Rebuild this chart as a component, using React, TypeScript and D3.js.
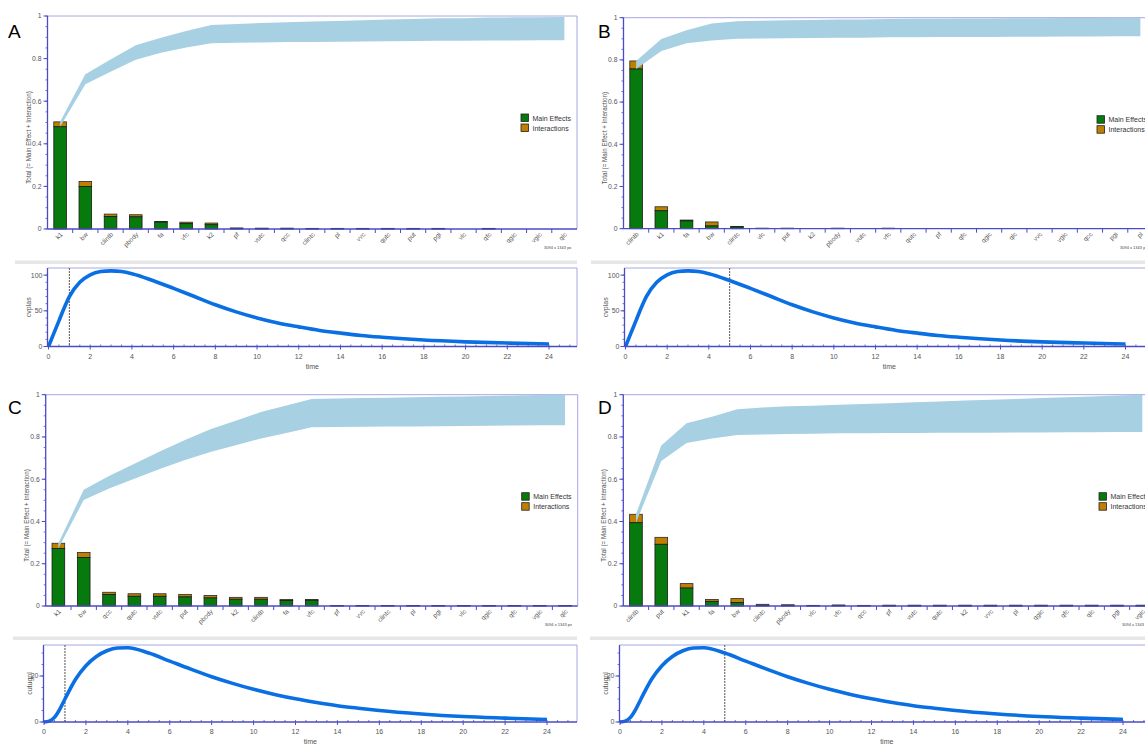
import React from "react";
import * as d3 from "d3";

// ---------- data ----------
const catsA = ["k1","bw","clintb","pbody","fa","vfc","k2","pf","vutc","qcc","clintc","pl","vvc","qutc","put","pgi","vlc","qfc","qgic","vgic","qlc"];
const mainA = [0.48,0.2,0.058,0.057,0.032,0.025,0.02,0.0025,0.0015,0.0015,0.001,0.001,0.001,0.001,0.001,0.001,0.0005,0.001,0.0005,0.0005,0.0005];
const totalA = [0.503,0.223,0.07,0.067,0.035,0.032,0.028,0.005,0.004,0.004,0.003,0.003,0.003,0.003,0.003,0.003,0.0008,0.003,0.0008,0.0008,0.0008];

const catsB = ["clintb","k1","fa","bw","clintc","vlc","put","k2","pbody","vutc","vfc","qutc","pf","qfc","qgic","qlc","vvc","vgic","qcc","pgi","pl"];
const mainB = [0.757,0.085,0.037,0.013,0.008,0.0015,0.0015,0.0005,0.0015,0.0005,0.0015,0.0005,0.0005,0.0005,0.0005,0.0005,0.0005,0.0005,0.0005,0.0005,0.0005];
const totalB = [0.795,0.104,0.041,0.032,0.011,0.0025,0.0025,0.0006,0.0025,0.0006,0.0025,0.0006,0.0006,0.0006,0.0006,0.0006,0.0006,0.0006,0.0006,0.0006,0.0006];

const catsC = ["k1","bw","qcc","qutc","vutc","put","pbody","k2","clintb","fa","vfc","pf","vvc","clintc","pl","pgi","vlc","qgic","qfc","vgic","qlc"];
const mainC = [0.272,0.23,0.054,0.046,0.046,0.043,0.038,0.032,0.032,0.026,0.027,0.001,0.001,0.001,0.001,0.001,0.001,0.001,0.001,0.001,0.001];
const totalC = [0.297,0.253,0.065,0.058,0.058,0.055,0.05,0.041,0.041,0.031,0.031,0.002,0.002,0.002,0.002,0.002,0.002,0.002,0.002,0.002,0.002];

const catsD = ["clintb","put","k1","fa","bw","clintc","pbody","vlc","vfc","qcc","pf","vutc","qutc","k2","vvc","pl","qgic","qfc","qlc","pgi","vgic"];
const mainD = [0.394,0.292,0.085,0.022,0.016,0.003,0.002,0.001,0.002,0.001,0.0005,0.0005,0.0005,0.0005,0.0005,0.0005,0.0005,0.0005,0.0005,0.0005,0.0005];
const totalD = [0.434,0.325,0.106,0.031,0.035,0.008,0.006,0.003,0.005,0.003,0.004,0.004,0.004,0.004,0.004,0.004,0.004,0.004,0.004,0.004,0.004];

const yTicksBar = [0, 0.2, 0.4, 0.6, 0.8, 1];

const timeGrid = [0,0.25,0.5,0.75,1,1.5,2,2.5,3,3.5,4,5,6,7,8,9,10,11,12,13,14,15,16,18,20,22,24];
const cvplas = [0,18,36,54,70,90,100.5,105,106,105,102,92.5,81.5,70,58.5,48.5,40,33,27.5,22.5,18.8,15.5,13,9,6.5,4.8,3.5];
const cutugpl = [0,0.4,2,5.5,10,18.5,24.5,28.5,31,32.2,32.3,30,26.5,23,19.7,16.8,14.2,12,10.1,8.5,7.1,6.0,5.0,3.5,2.4,1.7,1.1];
const timeTicks = [0,2,4,6,8,10,12,14,16,18,20,22,24];

// ---------- styles ----------
const FONT = "'Liberation Sans', Arial, sans-serif";
const AXIS = "#4b4bc6";
const FRAME = "#a6a6e4";
const GREEN = "#067a0c";
const ORANGE = "#c07f00";
const BAND = "#a7d0e3";
const LABEL = "#555";
const LINE = "#0a6fe3";

type BarCfg = {
  cats: string[]; main: number[]; total: number[];
  x0: number; x1: number; y0: number; y1: number;
  letter: string; lx: number; ly: number;
};

function BarPanel({ c }: { c: BarCfg }) {
  const xs = d3.scaleBand<string>().domain(c.cats).range([c.x0, c.x1]).padding(0);
  const ys = d3.scaleLinear().domain([0, 1]).range([c.y0, c.y1]);
  const step = xs.step();
  const bw = step * 0.5;
  const cumMain = Array.from(d3.cumsum(c.main));
  const cumTot = Array.from(d3.cumsum(c.total));
  const bandData = c.cats.map((k, i) => ({
    x: (xs(k) as number) + step / 2,
    lo: Math.min(1, cumMain[i]),
    hi: Math.min(1, cumTot[i]),
  }));
  const area = d3.area<any>().x((d) => d.x).y0((d) => ys(d.lo)).y1((d) => ys(d.hi));
  const minor = d3.range(0, 1.0001, 0.05);
  const legX = c.x1 - 56;
  const legY = c.y1 + 98;
  return (
    <g>
      <text x={c.lx} y={c.ly} fontFamily={FONT} fontSize={19} fill="#000">{c.letter}</text>
      <line x1={c.x0} x2={c.x1} y1={c.y1} y2={c.y1} stroke={FRAME} strokeWidth={1} />
      <line x1={c.x1} x2={c.x1} y1={c.y1} y2={c.y0} stroke={FRAME} strokeWidth={1} />
      {c.cats.map((k, i) => {
        if (c.total[i] < 0.001) return null;
        const x = (xs(k) as number) + (step - bw) / 2;
        return (
          <g key={k}>
            <rect x={x} y={ys(c.total[i])} width={bw} height={ys(c.main[i]) - ys(c.total[i])} fill={ORANGE} stroke="#2a2a2a" strokeWidth={0.8} />
            <rect x={x} y={ys(c.main[i])} width={bw} height={c.y0 - ys(c.main[i])} fill={GREEN} stroke="#1a1a1a" strokeWidth={0.8} />
          </g>
        );
      })}
      <path d={area(bandData) as string} fill={BAND} />
      <line x1={c.x0} x2={c.x0} y1={c.y0} y2={c.y1} stroke={AXIS} strokeWidth={1.3} />
      {minor.map((v) => (
        <line key={v} x1={c.x0 - 2} x2={c.x0} y1={ys(v)} y2={ys(v)} stroke={AXIS} strokeWidth={0.8} />
      ))}
      {yTicksBar.map((v) => (
        <g key={v}>
          <line x1={c.x0 - 4} x2={c.x0} y1={ys(v)} y2={ys(v)} stroke={AXIS} strokeWidth={1} />
          <text x={c.x0 - 6} y={ys(v) + 2.3} textAnchor="end" fontFamily={FONT} fontSize={6.8} fill={LABEL}>{String(+v.toFixed(1))}</text>
        </g>
      ))}
      <text transform={`translate(${c.x0 - 17},${(c.y0 + c.y1) / 2 + 15}) rotate(-90)`} textAnchor="middle" fontFamily={FONT} fontSize={6.3} fill={LABEL}>Total (= Main Effect + Interaction)</text>
      <line x1={c.x0} x2={c.x1} y1={c.y0} y2={c.y0} stroke={AXIS} strokeWidth={1.3} />
      {c.cats.map((k, i) => {
        const xb = xs(k) as number;
        const xc = xb + step / 2;
        return (
          <g key={"t" + k}>
            {i > 0 && <line x1={xb} x2={xb} y1={c.y0} y2={c.y0 + 4} stroke={AXIS} strokeWidth={1} />}
            <text transform={`translate(${xc + 3},${c.y0 + 6}) rotate(-45)`} textAnchor="end" fontFamily={FONT} fontSize={6.5} fill={LABEL}>{k}</text>
          </g>
        );
      })}
      <rect x={legX} y={legY} width={7.5} height={7.5} fill={GREEN} stroke="#222" strokeWidth={0.8} />
      <rect x={legX} y={legY + 10} width={7.5} height={7.5} fill={ORANGE} stroke="#222" strokeWidth={0.8} />
      <text x={legX + 11.5} y={legY + 6.5} fontFamily={FONT} fontSize={7} fill="#333">Main Effects</text>
      <text x={legX + 11.5} y={legY + 16.5} fontFamily={FONT} fontSize={7} fill="#333">Interactions</text>
      <text x={c.x1 - 33} y={c.y0 + 20} fontFamily={FONT} fontSize={4} fill="#444">3094 x 1343 px</text>
    </g>
  );
}

type LineCfg = {
  values: number[]; yLabel: string; yMax: number; yMajor: number[]; yMinorStep: number;
  axisX: number; xZero: number; x24: number; right: number; top: number; bottom: number;
  marker: number; sepX0: number; sepX1: number; sepY: number; labelOff: number;
};

function LinePanel({ c }: { c: LineCfg }) {
  const xs = d3.scaleLinear().domain([0, 24]).range([c.xZero, c.x24]);
  const ys = d3.scaleLinear().domain([0, c.yMax]).range([c.bottom, c.top]);
  const pts = timeGrid.map((t, i) => [xs(t), ys(c.values[i])] as [number, number]);
  const line = d3.line().curve(d3.curveMonotoneX);
  const minorX = d3.range(0, 25.01, 0.5).filter((t) => xs(t) <= c.right);
  const minorY = d3.range(0, c.yMax, c.yMinorStep);
  return (
    <g>
      <rect x={c.sepX0} y={c.sepY} width={c.sepX1 - c.sepX0} height={3.5} fill="#e6e6e6" />
      <line x1={c.axisX} x2={c.right} y1={c.top} y2={c.top} stroke={FRAME} strokeWidth={1} />
      <line x1={c.right} x2={c.right} y1={c.top} y2={c.bottom} stroke={FRAME} strokeWidth={1} />
      <line x1={xs(c.marker)} x2={xs(c.marker)} y1={c.top} y2={c.bottom} stroke="#555" strokeWidth={1} strokeDasharray="2,1" />
      <path d={line(pts) as string} fill="none" stroke={LINE} strokeWidth={3.6} strokeLinecap="butt" />
      <line x1={c.axisX} x2={c.axisX} y1={c.top} y2={c.bottom} stroke={AXIS} strokeWidth={1.3} />
      {minorY.map((v) => (
        <line key={v} x1={c.axisX - 2} x2={c.axisX} y1={ys(v)} y2={ys(v)} stroke={AXIS} strokeWidth={0.8} />
      ))}
      {c.yMajor.map((v) => (
        <g key={v}>
          <line x1={c.axisX - 4} x2={c.axisX} y1={ys(v)} y2={ys(v)} stroke={AXIS} strokeWidth={1} />
          <text x={c.axisX - 5} y={ys(v) + 2.4} textAnchor="end" fontFamily={FONT} fontSize={7} fill={LABEL}>{v}</text>
        </g>
      ))}
      <text transform={`translate(${c.axisX - c.labelOff},${(c.top + c.bottom) / 2}) rotate(-90)`} textAnchor="middle" fontFamily={FONT} fontSize={7} fill={LABEL}>{c.yLabel}</text>
      <line x1={c.axisX} x2={c.right} y1={c.bottom} y2={c.bottom} stroke={AXIS} strokeWidth={1.3} />
      {minorX.map((t) => (
        <line key={t} x1={xs(t)} x2={xs(t)} y1={c.bottom - 2} y2={c.bottom} stroke={AXIS} strokeWidth={0.8} />
      ))}
      {timeTicks.map((t) => (
        <g key={t}>
          <line x1={xs(t)} x2={xs(t)} y1={c.bottom} y2={c.bottom + 3} stroke={AXIS} strokeWidth={1} />
          <text x={xs(t)} y={c.bottom + 12} textAnchor="middle" fontFamily={FONT} fontSize={7} fill={LABEL}>{t}</text>
        </g>
      ))}
      <text x={(c.axisX + c.right) / 2} y={c.bottom + 22} textAnchor="middle" fontFamily={FONT} fontSize={7} fill={LABEL}>time</text>
    </g>
  );
}

const barA: BarCfg = { cats: catsA, main: mainA, total: totalA, x0: 47.5, x1: 577, y0: 229, y1: 16, letter: "A", lx: 8, ly: 38 };
const barB: BarCfg = { cats: catsB, main: mainB, total: totalB, x0: 623.5, x1: 1153, y0: 228.7, y1: 17.7, letter: "B", lx: 598, ly: 38 };
const barC: BarCfg = { cats: catsC, main: mainC, total: totalC, x0: 45.7, x1: 577.7, y0: 606, y1: 394.7, letter: "C", lx: 8, ly: 414 };
const barD: BarCfg = { cats: catsD, main: mainD, total: totalD, x0: 623.3, x1: 1155, y0: 606, y1: 394.7, letter: "D", lx: 598, ly: 414 };

const lineA: LineCfg = { values: cvplas, yLabel: "cvplas", yMax: 110, yMajor: [0, 50, 100], yMinorStep: 10, axisX: 47.5, xZero: 48.5, x24: 549, right: 577, top: 268, bottom: 346.5, marker: 1, sepX0: 15, sepX1: 577, sepY: 260.5, labelOff: 17 };
const lineB: LineCfg = { values: cvplas, yLabel: "cvplas", yMax: 110, yMajor: [0, 50, 100], yMinorStep: 10, axisX: 624.5, xZero: 625.5, x24: 1125.5, right: 1154, top: 268, bottom: 346.5, marker: 5, sepX0: 591, sepX1: 1150, sepY: 260.5, labelOff: 17 };
const lineC: LineCfg = { values: cutugpl, yLabel: "cutugpl", yMax: 33.5, yMajor: [0, 20], yMinorStep: 5, axisX: 43.5, xZero: 44, x24: 547, right: 577, top: 645, bottom: 722, marker: 1, sepX0: 13, sepX1: 577, sepY: 636.5, labelOff: 12 };
const lineD: LineCfg = { values: cutugpl, yLabel: "cutugpl", yMax: 33.5, yMajor: [0, 20], yMinorStep: 5, axisX: 619.5, xZero: 620, x24: 1123, right: 1154, top: 645, bottom: 722, marker: 5, sepX0: 590, sepX1: 1150, sepY: 636.5, labelOff: 12 };

export default function App() {
  return (
    <svg width={1145} height={746} style={{ position: "absolute", left: 0, top: 0, background: "#fff" }}>
      <rect x={0} y={0} width={1145} height={746} fill="#fff" />
      <BarPanel c={barA} />
      <BarPanel c={barB} />
      <BarPanel c={barC} />
      <BarPanel c={barD} />
      <LinePanel c={lineA} />
      <LinePanel c={lineB} />
      <LinePanel c={lineC} />
      <LinePanel c={lineD} />
    </svg>
  );
}
